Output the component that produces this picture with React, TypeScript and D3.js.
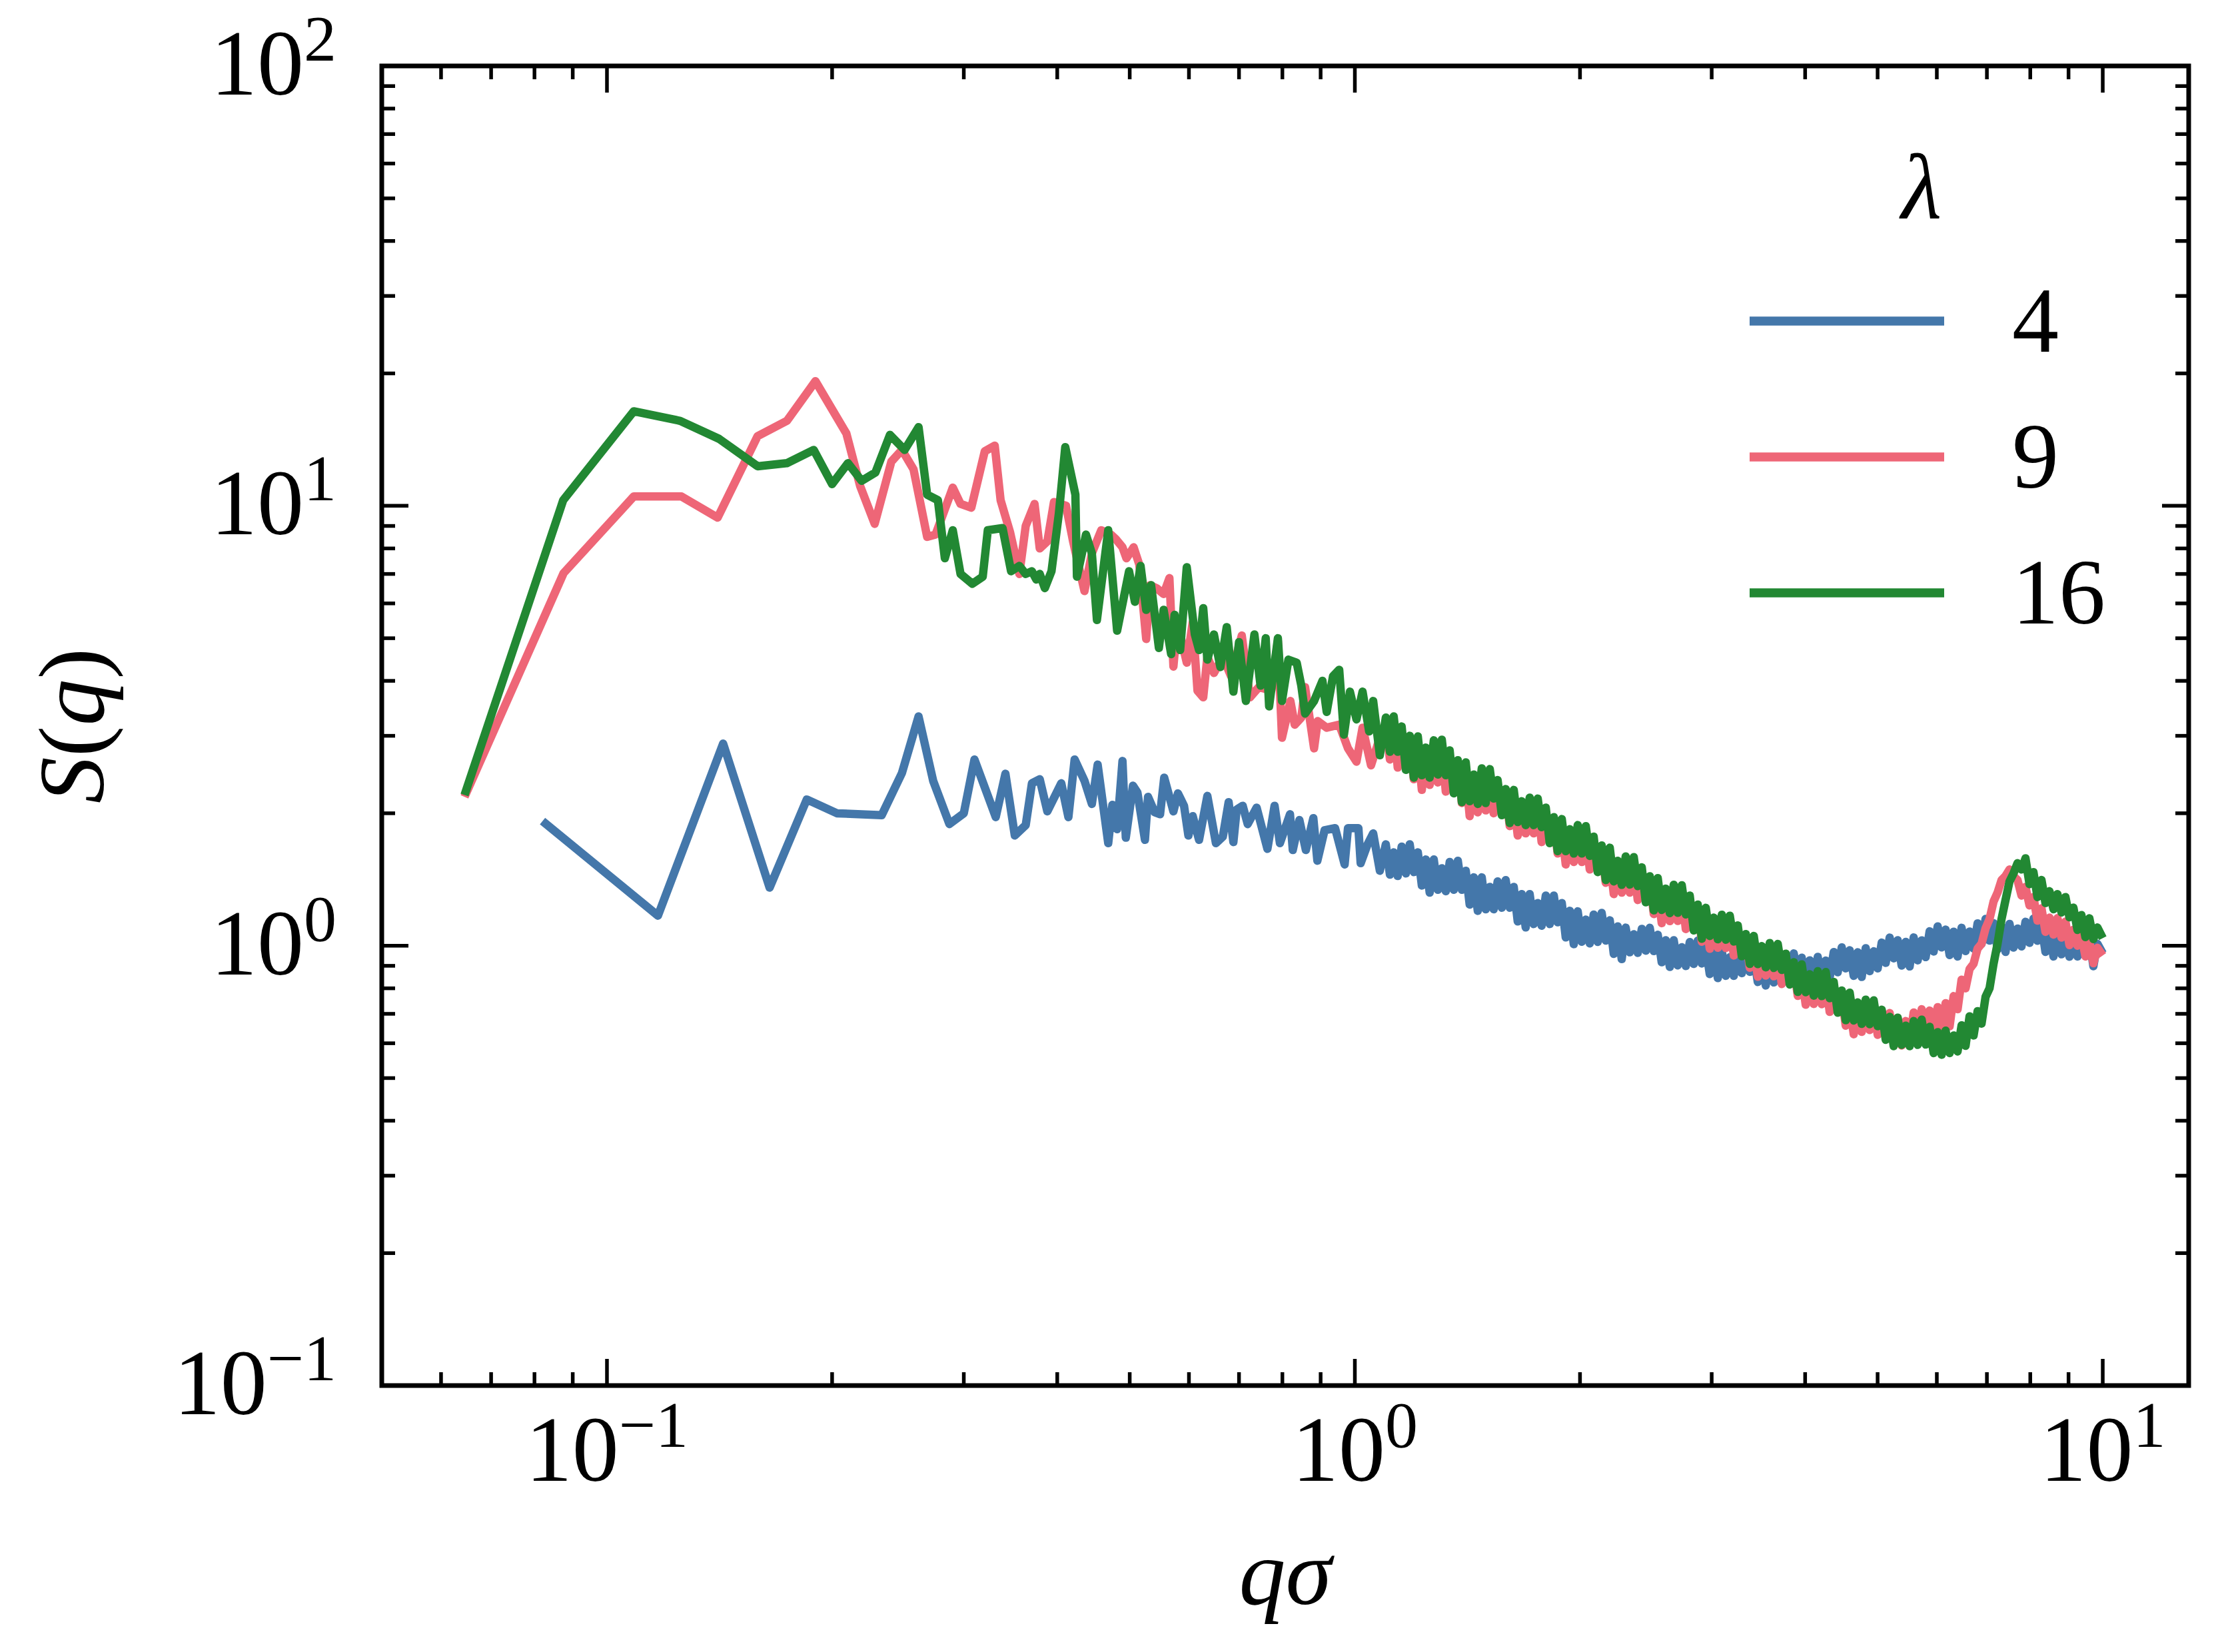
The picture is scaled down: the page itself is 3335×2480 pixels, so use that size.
import { useEffect, useRef } from "react";
import * as d3 from "d3";

// low-q part, each run has its own q grid: [qσ, S(q)]
const LOW_4: [number, number][] = [
  [0.082, 1.92], [0.117, 1.17], [0.143, 2.88], [0.165, 1.355], [0.185, 2.15], [0.203, 2.0], [0.233, 1.98],
  [0.248, 2.47], [0.261, 3.32], [0.273, 2.37], [0.287, 1.89], [0.3, 2.0], [0.31, 2.65], [0.331, 1.96],
  [0.341, 2.46], [0.351, 1.78], [0.363, 1.88], [0.37, 2.34], [0.379, 2.39], [0.388, 2.02], [0.405, 2.34],
  [0.414, 1.96], [0.422, 2.65], [0.435, 2.37], [0.445, 2.1], [0.453, 2.58], [0.468, 1.71], [0.474, 2.09],
  [0.481, 1.84], [0.489, 2.63], [0.494, 1.76], [0.505, 2.31], [0.512, 2.23], [0.524, 1.74], [0.529, 2.18],
  [0.54, 2.01], [0.549, 1.99], [0.556, 2.41], [0.572, 2.02], [0.58, 2.22], [0.591, 2.08], [0.599, 1.78],
  [0.607, 1.97], [0.619, 1.74], [0.635, 2.19], [0.652, 1.71], [0.666, 1.77], [0.678, 2.12], [0.688, 1.72],
  [0.695, 2.04], [0.708, 2.08], [0.719, 1.89], [0.739, 2.06], [0.764, 1.66], [0.781, 2.08], [0.794, 1.71],
  [0.819, 1.99], [0.826, 1.65], [0.843, 1.93], [0.86, 1.65], [0.88, 1.95], [0.891, 1.56], [0.911, 1.83],
  [0.941, 1.85], [0.969, 1.53], [0.979, 1.85], [1.011, 1.85], [1.018, 1.54], [1.04, 1.7], [1.058, 1.8],
  [1.08, 1.48],
];

const LOW_9: [number, number][] = [
  [0.0645, 2.18], [0.0875, 7.03], [0.1086, 10.5], [0.1258, 10.5], [0.1406, 9.4], [0.159, 14.4], [0.174, 15.6],
  [0.19, 19.2], [0.209, 14.6], [0.218, 11.1], [0.228, 9.1], [0.24, 12.6], [0.248, 13.4], [0.257, 12.1],
  [0.268, 8.5], [0.275, 8.6], [0.29, 11.0], [0.297, 10.1], [0.307, 9.9], [0.32, 13.3], [0.33, 13.7],
  [0.336, 10.3], [0.346, 8.7], [0.356, 7.0], [0.363, 9.0], [0.373, 10.1], [0.379, 8.0], [0.388, 8.3],
  [0.396, 10.2], [0.411, 10.0], [0.42, 8.3], [0.435, 6.4], [0.445, 7.8], [0.458, 8.8], [0.472, 8.6],
  [0.479, 8.4], [0.489, 8.05], [0.495, 7.6], [0.506, 8.05], [0.515, 7.35], [0.526, 4.98], [0.532, 6.6],
  [0.543, 6.5], [0.555, 6.3], [0.565, 6.85], [0.572, 4.31], [0.579, 5.43], [0.596, 4.4], [0.607, 5.43],
  [0.616, 3.8], [0.627, 3.67], [0.635, 4.54], [0.648, 4.17], [0.666, 4.54], [0.683, 4.1], [0.706, 5.07],
  [0.724, 3.67], [0.744, 3.87], [0.773, 3.8], [0.789, 4.93], [0.799, 2.97], [0.82, 3.6], [0.831, 3.18],
  [0.848, 3.3], [0.858, 3.87], [0.882, 2.81], [0.892, 3.24], [0.917, 3.13], [0.953, 3.18], [0.979, 2.81],
  [1.005, 2.62], [1.024, 3.13], [1.051, 2.57], [1.075, 2.9],
];

const LOW_16: [number, number][] = [
  [0.0645, 2.2], [0.0874, 10.3], [0.1086, 16.4], [0.1253, 15.6], [0.1412, 14.2], [0.159, 12.3], [0.174, 12.5],
  [0.189, 13.4], [0.2, 11.2], [0.21, 12.5], [0.219, 11.4], [0.2285, 11.9], [0.239, 14.5], [0.25, 13.4],
  [0.261, 15.1], [0.268, 10.6], [0.277, 10.3], [0.283, 7.6], [0.29, 8.8], [0.297, 7.0], [0.308, 6.65],
  [0.318, 6.9], [0.323, 8.8], [0.338, 8.9], [0.347, 7.1], [0.356, 7.3], [0.363, 7.0], [0.37, 7.1],
  [0.375, 6.8], [0.379, 7.0], [0.385, 6.5], [0.393, 7.1], [0.402, 9.6], [0.41, 13.6], [0.423, 10.6],
  [0.425, 6.9], [0.437, 8.6], [0.445, 7.8], [0.452, 5.5], [0.468, 8.8], [0.481, 5.2], [0.499, 7.1],
  [0.508, 6.05], [0.517, 7.3], [0.526, 5.8], [0.534, 6.6], [0.547, 4.75], [0.555, 5.8], [0.568, 4.6],
  [0.574, 5.65], [0.584, 4.7], [0.596, 7.25], [0.611, 5.1], [0.619, 4.7], [0.627, 5.85], [0.635, 4.47],
  [0.648, 5.1], [0.661, 4.3], [0.674, 5.3], [0.688, 3.78], [0.7, 4.9], [0.715, 3.6], [0.734, 5.1],
  [0.748, 3.9], [0.76, 5.0], [0.768, 3.5], [0.789, 5.0], [0.799, 3.6], [0.815, 4.47], [0.836, 4.4],
  [0.848, 3.9], [0.858, 3.37], [0.882, 3.6], [0.905, 4.0], [0.917, 3.4], [0.935, 4.1], [0.953, 4.24],
  [0.967, 3.02], [0.985, 3.78], [1.005, 3.27], [1.024, 3.78], [1.045, 3.07], [1.058, 3.6], [1.08, 2.71],
];

// high-q part, shared grid (dense, noisy)
const Q_HIGH = [
  1.1, 1.114, 1.127, 1.141, 1.155, 1.17, 1.184, 1.199, 1.214, 1.229,
  1.244, 1.259, 1.275, 1.291, 1.307, 1.323, 1.339, 1.356, 1.373, 1.39,
  1.407, 1.424, 1.442, 1.46, 1.478, 1.496, 1.515, 1.533, 1.552, 1.572,
  1.591, 1.611, 1.631, 1.651, 1.671, 1.692, 1.713, 1.734, 1.756, 1.777,
  1.8, 1.822, 1.845, 1.867, 1.891, 1.914, 1.938, 1.962, 1.986, 2.011,
  2.036, 2.061, 2.086, 2.112, 2.138, 2.165, 2.192, 2.219, 2.246, 2.274,
  2.302, 2.331, 2.36, 2.389, 2.419, 2.449, 2.479, 2.51, 2.541, 2.572,
  2.604, 2.637, 2.669, 2.702, 2.736, 2.77, 2.804, 2.839, 2.874, 2.91,
  2.946, 2.982, 3.019, 3.057, 3.095, 3.133, 3.172, 3.211, 3.251, 3.291,
  3.332, 3.373, 3.415, 3.457, 3.5, 3.543, 3.587, 3.632, 3.677, 3.722,
  3.768, 3.815, 3.862, 3.91, 3.958, 4.007, 4.057, 4.107, 4.158, 4.21,
  4.262, 4.314, 4.368, 4.422, 4.477, 4.532, 4.588, 4.645, 4.703, 4.761,
  4.82, 4.879, 4.94, 5.001, 5.063, 5.126, 5.189, 5.253, 5.318, 5.384,
  5.451, 5.518, 5.587, 5.656, 5.726, 5.797, 5.868, 5.941, 6.015, 6.089,
  6.164, 6.241, 6.318, 6.396, 6.475, 6.555, 6.636, 6.719, 6.802, 6.886,
  6.971, 7.057, 7.145, 7.233, 7.323, 7.413, 7.505, 7.598, 7.692, 7.787,
  7.883, 7.981, 8.079, 8.179, 8.281, 8.383, 8.487, 8.592, 8.698, 8.806,
  8.915, 9.025, 9.137, 9.25, 9.364, 9.48, 9.597, 9.716, 9.836, 10.0,
];

const S_HIGH_4 = [
  1.7, 1.45, 1.63, 1.44, 1.68, 1.46, 1.7, 1.47, 1.63, 1.37,
  1.57, 1.32, 1.57, 1.34, 1.5, 1.33, 1.55, 1.34, 1.56, 1.34,
  1.48, 1.24, 1.43, 1.2, 1.43, 1.21, 1.36, 1.21, 1.4, 1.22,
  1.41, 1.22, 1.36, 1.135, 1.31, 1.1, 1.31, 1.12, 1.25, 1.11,
  1.3, 1.12, 1.3, 1.13, 1.25, 1.044, 1.2, 1.008, 1.197, 1.021,
  1.146, 1.012, 1.177, 1.02, 1.187, 1.027, 1.142, 0.958, 1.106, 0.932,
  1.099, 0.966, 1.062, 0.963, 1.092, 0.974, 1.098, 0.972, 1.059, 0.917,
  1.029, 0.895, 1.029, 0.902, 0.992, 0.899, 1.019, 0.909, 1.027, 0.911,
  0.993, 0.862, 0.968, 0.844, 0.972, 0.854, 0.941, 0.854, 0.969, 0.866,
  0.98, 0.872, 0.952, 0.827, 0.93, 0.812, 0.937, 0.825, 0.911, 0.829,
  0.944, 0.845, 0.96, 0.857, 0.939, 0.82, 0.926, 0.812, 0.943, 0.835,
  0.925, 0.846, 0.967, 0.87, 0.991, 0.888, 0.976, 0.854, 0.966, 0.849,
  0.987, 0.875, 0.971, 0.888, 1.016, 0.914, 1.043, 0.936, 1.029, 0.901,
  1.02, 0.897, 1.044, 0.926, 1.028, 0.942, 1.078, 0.97, 1.106, 0.991,
  1.088, 0.952, 1.076, 0.945, 1.098, 0.972, 1.077, 0.985, 1.124, 1.01,
  1.15, 1.027, 1.125, 0.981, 1.107, 0.968, 1.121, 0.99, 1.094, 0.996,
  1.133, 1.015, 1.152, 1.026, 1.117, 0.968, 1.086, 0.945, 1.089, 0.956,
  1.047, 0.944, 1.065, 0.945, 1.068, 0.948, 1.034, 0.898, 1.01, 0.96,
];

const S_HIGH_9 = [
  3.19, 2.65, 3.18, 2.54, 3.05, 2.6, 2.96, 2.39, 2.81, 2.26,
  2.7, 2.32, 2.83, 2.35, 2.82, 2.24, 2.69, 2.29, 2.61, 2.11,
  2.46, 1.97, 2.35, 2.01, 2.45, 2.03, 2.41, 2.0, 2.3, 2.01,
  2.22, 1.87, 2.12, 1.78, 2.04, 1.8, 2.09, 1.8, 2.07, 1.72,
  1.98, 1.74, 1.92, 1.62, 1.83, 1.53, 1.76, 1.55, 1.81, 1.55,
  1.79, 1.49, 1.71, 1.5, 1.65, 1.39, 1.57, 1.31, 1.49, 1.32,
  1.53, 1.32, 1.52, 1.27, 1.45, 1.28, 1.41, 1.18, 1.34, 1.125,
  1.29, 1.137, 1.326, 1.138, 1.313, 1.091, 1.253, 1.102, 1.214, 1.021,
  1.15, 0.984, 1.107, 0.989, 1.132, 0.988, 1.118, 0.95, 1.071, 0.954,
  1.037, 0.891, 0.992, 0.85, 0.954, 0.855, 0.977, 0.852, 0.965, 0.818,
  0.923, 0.822, 0.895, 0.769, 0.856, 0.734, 0.824, 0.737, 0.842, 0.736,
  0.832, 0.707, 0.796, 0.711, 0.771, 0.658, 0.734, 0.629, 0.71, 0.637,
  0.732, 0.643, 0.732, 0.627, 0.712, 0.641, 0.703, 0.609, 0.685, 0.593,
  0.674, 0.609, 0.705, 0.624, 0.717, 0.619, 0.712, 0.649, 0.725, 0.642,
  0.74, 0.656, 0.768, 0.717, 0.837, 0.8, 0.885, 0.91, 0.985, 1.01,
  1.095, 1.15, 1.26, 1.32, 1.41, 1.44, 1.49, 1.44, 1.41, 1.3,
  1.36, 1.235, 1.29, 1.14, 1.216, 1.075, 1.158, 1.06, 1.155, 1.043,
  1.134, 1.003, 1.087, 1.0, 1.055, 0.945, 1.02, 0.912, 0.989, 0.95,
];

const S_HIGH_16 = [
  3.3, 2.76, 3.32, 2.76, 3.15, 2.51, 3.0, 2.41, 2.99, 2.44,
  2.82, 2.41, 2.93, 2.45, 2.94, 2.44, 2.78, 2.22, 2.64, 2.12,
  2.61, 2.13, 2.45, 2.1, 2.53, 2.11, 2.52, 2.16, 2.38, 1.98,
  2.27, 1.9, 2.26, 1.91, 2.13, 1.88, 2.17, 1.88, 2.16, 1.86,
  2.06, 1.71, 1.96, 1.64, 1.94, 1.64, 1.84, 1.62, 1.88, 1.62,
  1.87, 1.6, 1.77, 1.47, 1.69, 1.41, 1.67, 1.4, 1.56, 1.375,
  1.595, 1.377, 1.59, 1.366, 1.507, 1.255, 1.438, 1.203, 1.424, 1.206,
  1.348, 1.186, 1.376, 1.188, 1.372, 1.178, 1.3, 1.083, 1.24, 1.037,
  1.219, 1.052, 1.158, 1.034, 1.176, 1.032, 1.17, 1.022, 1.112, 0.946,
  1.063, 0.909, 1.052, 0.908, 0.998, 0.893, 1.014, 0.89, 1.009, 0.881,
  0.959, 0.816, 0.917, 0.785, 0.907, 0.784, 0.861, 0.77, 0.875, 0.768,
  0.871, 0.76, 0.827, 0.704, 0.791, 0.677, 0.782, 0.676, 0.743, 0.664,
  0.754, 0.663, 0.751, 0.656, 0.715, 0.611, 0.689, 0.591, 0.686, 0.595,
  0.658, 0.591, 0.674, 0.595, 0.679, 0.596, 0.654, 0.57, 0.636, 0.565,
  0.641, 0.57, 0.625, 0.575, 0.659, 0.592, 0.691, 0.625, 0.71, 0.665,
  0.765, 0.8, 0.91, 1.01, 1.15, 1.27, 1.4, 1.46, 1.54, 1.49,
  1.58, 1.38, 1.47, 1.29, 1.41, 1.25, 1.33, 1.21, 1.31, 1.19,
  1.29, 1.16, 1.22, 1.086, 1.174, 1.046, 1.154, 1.035, 1.1, 1.04,
];

const LAMBDAS = ["4", "9", "16"];
const COLORS = ["#4477AA", "#EE6677", "#228833"];

const W = 3335, H = 2480;
const M = { top: 99, right: 50, bottom: 400, left: 573 };
const FONT = "'Liberation Serif', 'DejaVu Serif', serif";
const FS = 140;
const LW = 12.5;

function withHigh(low: [number, number][], high: number[]): [number, number][] {
  return [...low, ...Q_HIGH.map((q, i) => [q, high[i]] as [number, number])];
}

const SERIES = [
  { label: LAMBDAS[0], color: COLORS[0], points: withHigh(LOW_4, S_HIGH_4) },
  { label: LAMBDAS[1], color: COLORS[1], points: withHigh(LOW_9, S_HIGH_9) },
  { label: LAMBDAS[2], color: COLORS[2], points: withHigh(LOW_16, S_HIGH_16) },
];

export default function App() {
  const ref = useRef<SVGSVGElement>(null);

  useEffect(() => {
    document.body.style.margin = "0";
    const el = ref.current;
    if (!el) return;
    const svg = d3.select(el);
    svg.selectAll("*").remove();

    const x0 = M.left, x1 = W - M.right, y0 = H - M.bottom, y1 = M.top;
    const x = d3.scaleLog().domain([Math.pow(10, -1.3011), Math.pow(10, 1.1149)]).range([x0, x1]);
    const y = d3.scaleLog().domain([0.1, 100]).range([y0, y1]);
    const isMajor = (v: number) => Math.abs(Math.log10(v) - Math.round(Math.log10(v))) < 1e-6;

    const line = d3.line<[number, number]>().x((d) => x(d[0])).y((d) => y(d[1]));
    SERIES.forEach((s) => {
      svg.append("path").datum(s.points).attr("d", line)
        .attr("fill", "none").attr("stroke", s.color).attr("stroke-width", LW)
        .attr("stroke-linejoin", "round").attr("stroke-linecap", "butt");
    });

    // ticks, inward on all four sides
    const tk = svg.append("g").attr("stroke", "#000").attr("stroke-width", 5.5);
    x.ticks().forEach((v) => {
      const L = isMajor(v) ? 40 : 20, px = x(v);
      tk.append("line").attr("x1", px).attr("x2", px).attr("y1", y0).attr("y2", y0 - L);
      tk.append("line").attr("x1", px).attr("x2", px).attr("y1", y1).attr("y2", y1 + L);
    });
    y.ticks().forEach((v) => {
      const L = isMajor(v) ? 40 : 20, py = y(v);
      tk.append("line").attr("y1", py).attr("y2", py).attr("x1", x0).attr("x2", x0 + L);
      tk.append("line").attr("y1", py).attr("y2", py).attr("x1", x1).attr("x2", x1 - L);
    });

    svg.append("rect").attr("x", x0).attr("y", y1).attr("width", x1 - x0).attr("height", y0 - y1)
      .attr("fill", "none").attr("stroke", "#000").attr("stroke-width", 7);

    const pow = (g: any, v: number) => {
      const e = Math.round(Math.log10(v));
      g.append("tspan").text("10");
      g.append("tspan").attr("font-size", FS * 0.7).attr("dy", -51).text(e < 0 ? `\u2212${-e}` : `${e}`);
    };

    x.ticks().filter(isMajor).forEach((v) => {
      const t = svg.append("text").attr("x", x(v)).attr("y", 2223).attr("text-anchor", "middle")
        .attr("font-family", FONT).attr("font-size", FS);
      pow(t, v);
    });
    y.ticks().filter(isMajor).forEach((v) => {
      const t = svg.append("text").attr("x", 505).attr("y", y(v) + 43).attr("text-anchor", "end")
        .attr("font-family", FONT).attr("font-size", FS);
      pow(t, v);
    });

    // axis labels
    svg.append("text").attr("x", (x0 + x1) / 2).attr("y", 2408).attr("text-anchor", "middle")
      .attr("font-family", FONT).attr("font-size", FS).attr("font-style", "italic").text("q\u03C3");
    const yl = svg.append("text").attr("transform", `translate(155,${(y0 + y1) / 2}) rotate(-90)`)
      .attr("text-anchor", "middle").attr("font-family", FONT).attr("font-size", FS);
    yl.append("tspan").attr("font-style", "italic").text("S");
    yl.append("tspan").text("(");
    yl.append("tspan").attr("font-style", "italic").text("q");
    yl.append("tspan").text(")");

    // legend
    const lg = svg.append("g").attr("font-family", FONT).attr("font-size", FS);
    lg.append("text").attr("x", 2884).attr("y", 328).attr("text-anchor", "middle")
      .attr("font-style", "italic").text("\u03BB");
    SERIES.forEach((s, i) => {
      const ly = 482 + i * 204;
      lg.append("line").attr("x1", 2626).attr("x2", 2918).attr("y1", ly).attr("y2", ly)
        .attr("stroke", s.color).attr("stroke-width", LW + 1);
      lg.append("text").attr("x", 3020).attr("y", ly + 46).text(s.label);
    });
  }, []);

  return <svg ref={ref} width={W} height={H} style={{ display: "block", background: "#fff" }} />;
}
